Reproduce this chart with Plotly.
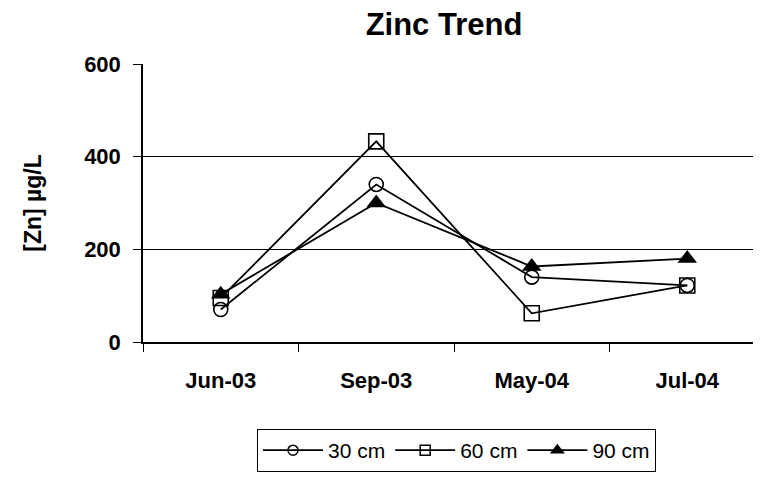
import plotly.graph_objects as go

dates = ["Jun-03", "Sep-03", "May-04", "Jul-04"]
zn_30cm = [70, 340, 140, 122]
zn_60cm = [95, 433, 62, 122]
zn_90cm = [103, 300, 163, 180]

# the page body keeps its default 8px margin, so the figure is laid out
# smaller and every pixel position below is given in window pixels
OFF = 8
W, H = 761 - 2 * OFF, 477 - OFF
FONT = "Liberation Sans, Arial, sans-serif"


def px_x(x):
    return (x - OFF) / W


def px_y(y):
    return 1 - (y - OFF) / H


# (name, values, marker in plot, marker in legend)
series = [
    ("30 cm", zn_30cm, ("circle-open", 14, 1.6), ("circle-open", 10, 1.5)),
    ("60 cm", zn_60cm, ("square-open", 15, 1.6), ("square-open", 10, 1.5)),
    ("90 cm", zn_90cm, ("triangle-up", 17, 0), ("triangle-up", 13, 0)),
]

fig = go.Figure()
for name, vals, (sym, size, lw), (lsym, lsize, llw) in series:
    fig.add_trace(go.Scatter(
        x=dates, y=vals, name=name, mode="lines+markers", showlegend=False,
        line=dict(color="black", width=1.8),
        marker=dict(symbol=sym, size=size, color="black", line=dict(width=lw, color="black")),
    ))
    # legend entry with smaller symbols, like the original
    fig.add_trace(go.Scatter(
        x=[None], y=[None], name=name, mode="lines+markers",
        line=dict(color="black", width=1.8),
        marker=dict(symbol=lsym, size=lsize, color="black", line=dict(width=llw, color="black")),
    ))

# plot spans 143 -> 765 px in the window, the right part is cut by the page edge
left, right, top, bottom = 143, 765, 64, 342
step = (right - left) / len(dates)
vis_right = OFF + W
fig.update_layout(
    width=W, height=H,
    paper_bgcolor="white", plot_bgcolor="white",
    margin=dict(l=left - OFF, r=0, t=top - OFF, b=H - (bottom - OFF)),
    font=dict(family=FONT, color="black"),
    title=dict(text="<b>Zinc Trend</b>", xref="container", x=px_x(444), xanchor="center",
               yref="container", y=px_y(24), yanchor="middle", font=dict(size=31)),
    showlegend=True,
    legend=dict(orientation="h", xref="container", yref="container",
                x=px_x(257), xanchor="left", y=px_y(429), yanchor="top",
                bordercolor="black", borderwidth=1, font=dict(size=21),
                itemwidth=60, tracegroupgap=0),
    xaxis=dict(
        type="category", range=[-0.5, -0.5 + (vis_right - left) / step],
        tickson="boundaries", ticks="outside", ticklen=8, tickcolor="black",
        showline=True, linecolor="black", linewidth=1.5,
        showgrid=False, zeroline=False,
        tickfont=dict(size=22, family=FONT), ticklabelstandoff=18,
        tickprefix="<b>", ticksuffix="</b>",
    ),
    yaxis=dict(
        range=[0, 600], dtick=200, ticks="outside", ticklen=8, tickcolor="black",
        showline=True, linecolor="black", linewidth=1.5,
        showgrid=True, gridcolor="black", gridwidth=1, zeroline=False,
        tickfont=dict(size=22, family=FONT), ticklabelstandoff=8,
        tickprefix="<b>", ticksuffix="</b>",
        title=dict(text="<b>[Zn] µg/L</b>", font=dict(size=23), standoff=36),
    ),
)

fig.write_html("out.html")
